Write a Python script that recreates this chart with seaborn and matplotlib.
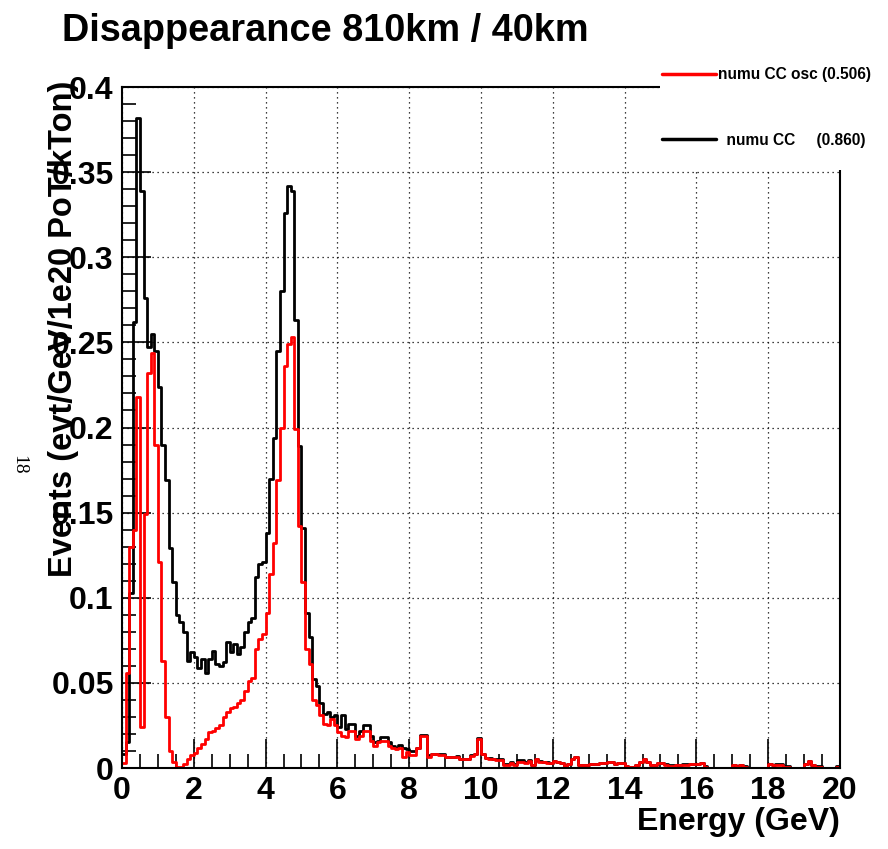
import numpy as np
import pandas as pd
import matplotlib
matplotlib.use('Agg')
import matplotlib.pyplot as plt
import seaborn as sns
from matplotlib.lines import Line2D
from matplotlib.patches import Rectangle
from matplotlib.ticker import MultipleLocator, FuncFormatter

# 0.1 GeV bins from 0 to 20 GeV
edges = np.round(np.arange(0, 20.01, 0.1), 1)
centers = edges[:-1] + 0.05

# numu CC, unoscillated (evt/GeV/1e20 PoT/kTon), one row per GeV
numu_cc = [
    0.008, 0.015, 0.103, 0.262, 0.382, 0.339, 0.276, 0.247, 0.255, 0.245,
    0.224, 0.190, 0.169, 0.129, 0.109, 0.090, 0.086, 0.080, 0.063, 0.068,
    0.065, 0.059, 0.064, 0.056, 0.064, 0.069, 0.061, 0.060, 0.062, 0.074,
    0.068, 0.073, 0.067, 0.071, 0.080, 0.086, 0.088, 0.112, 0.120, 0.121,
    0.138, 0.170, 0.194, 0.245, 0.280, 0.326, 0.342, 0.339, 0.263, 0.189,
    0.141, 0.091, 0.077, 0.052, 0.048, 0.038, 0.032, 0.033, 0.030, 0.031,
    0.024, 0.031, 0.023, 0.026, 0.026, 0.019, 0.022, 0.025, 0.025, 0.019,
    0.015, 0.016, 0.018, 0.018, 0.015, 0.013, 0.0115, 0.0135, 0.0116, 0.011,
    0.010, 0.010, 0.012, 0.0195, 0.0195, 0.0076, 0.0085, 0.0085, 0.008, 0.008,
    0.0067, 0.0063, 0.0063, 0.0068, 0.0055, 0.0055, 0.0055, 0.0075, 0.0085, 0.0175,
    0.0085, 0.0057, 0.0057, 0.0055, 0.0050, 0.0050, 0.0025, 0.0025, 0.0035, 0.0025,
    0.0045, 0.0045, 0.0035, 0.0045, 0.0020, 0.0055, 0.0040, 0.0038, 0.0033, 0.0032,
    0.0042, 0.0036, 0.0028, 0.0013, 0.0024, 0.0052, 0.0065, 0.0017, 0.0017, 0.0017,
    0.0025, 0.0025, 0.0025, 0.0028, 0.0028, 0.0036, 0.0036, 0.0025, 0.0031, 0.0031,
    0.0013, 0.0007, 0.0007, 0.0017, 0.0034, 0.0052, 0.0038, 0.0017, 0.0017, 0.0031,
    0.0031, 0.0021, 0.0015, 0.0015, 0.0017, 0.0017, 0.0021, 0.0021, 0.0025, 0.0025,
    0.0025, 0.0028, 0.0009, 0.0, 0.0, 0.0, 0.0, 0.0, 0.0, 0.0,
    0.0017, 0.0009, 0.0017, 0.0009, 0.0, 0.0, 0.0, 0.0, 0.0, 0.0,
    0.0025, 0.0017, 0.0021, 0.0021, 0.0009, 0.0009, 0.0, 0.0, 0.0, 0.0,
    0.0025, 0.0044, 0.0017, 0.0009, 0.0009, 0.0, 0.0, 0.0, 0.0, 0.0009,
]

# numu CC after oscillation
numu_cc_osc = [
    0.003, 0.056, 0.130, 0.140, 0.218, 0.024, 0.149, 0.232, 0.244, 0.190,
    0.121, 0.063, 0.030, 0.010, 0.0035, 0.0005, 0.0006, 0.0025, 0.005, 0.0075,
    0.009, 0.012, 0.014, 0.017, 0.021, 0.022, 0.0235, 0.025, 0.030, 0.033,
    0.035, 0.036, 0.038, 0.040, 0.045, 0.051, 0.053, 0.070, 0.076, 0.079,
    0.091, 0.114, 0.132, 0.169, 0.200, 0.236, 0.249, 0.253, 0.199, 0.142,
    0.109, 0.070, 0.061, 0.040, 0.037, 0.031, 0.026, 0.025, 0.029, 0.025,
    0.021, 0.019, 0.018, 0.022, 0.022, 0.017, 0.019, 0.022, 0.022, 0.016,
    0.013, 0.015, 0.016, 0.016, 0.013, 0.012, 0.011, 0.0116, 0.0063, 0.0096,
    0.0076, 0.0076, 0.0116, 0.019, 0.019, 0.0067, 0.008, 0.008, 0.0075, 0.0075,
    0.0063, 0.0063, 0.0063, 0.0065, 0.0053, 0.0053, 0.0053, 0.0070, 0.0080, 0.017,
    0.0082, 0.0057, 0.0055, 0.0053, 0.0045, 0.0045, 0.0020, 0.0020, 0.0028, 0.0020,
    0.0038, 0.0038, 0.0030, 0.0040, 0.0018, 0.0053, 0.0035, 0.0036, 0.0030, 0.0030,
    0.0040, 0.0035, 0.0027, 0.0012, 0.0023, 0.0050, 0.0063, 0.0016, 0.0016, 0.0016,
    0.0024, 0.0024, 0.0024, 0.0027, 0.0027, 0.0035, 0.0035, 0.0024, 0.0030, 0.0030,
    0.0012, 0.0006, 0.0006, 0.0016, 0.0033, 0.0050, 0.0037, 0.0016, 0.0016, 0.0030,
    0.0030, 0.0020, 0.0014, 0.0014, 0.0016, 0.0016, 0.0020, 0.0020, 0.0024, 0.0024,
    0.0024, 0.0027, 0.0008, 0.0, 0.0, 0.0, 0.0, 0.0, 0.0, 0.0,
    0.0016, 0.0008, 0.0016, 0.0008, 0.0, 0.0, 0.0, 0.0, 0.0, 0.0,
    0.0024, 0.0016, 0.0020, 0.0020, 0.0008, 0.0008, 0.0, 0.0, 0.0, 0.0,
    0.0024, 0.0043, 0.0016, 0.0008, 0.0008, 0.0, 0.0, 0.0, 0.0, 0.0008,
]

labels = ['numu CC osc (0.506)', '  numu CC     (0.860)']

cc = pd.DataFrame({'energy': centers, 'events': numu_cc})
osc = pd.DataFrame({'energy': centers, 'events': numu_cc_osc})

sns.set_style('white')
plt.rcParams['font.family'] = ['Liberation Sans', 'DejaVu Sans']
plt.rcParams['font.weight'] = 'bold'
plt.rcParams['text.color'] = 'black'
plt.rcParams['axes.labelcolor'] = 'black'
plt.rcParams['xtick.color'] = 'black'
plt.rcParams['ytick.color'] = 'black'

fig = plt.figure(figsize=(8.88, 8.49), dpi=100)
ax = fig.add_axes([0.1374, 0.0954, 0.8085, 0.8021])

# black first, red on top
sns.histplot(data=cc, x='energy', weights='events', bins=list(edges), element='step',
             fill=False, color='black', linewidth=2, ax=ax)
sns.histplot(data=osc, x='energy', weights='events', bins=list(edges), element='step',
             fill=False, color='#ff0000', linewidth=2, ax=ax)

ax.set_xlim(0, 20)
ax.set_ylim(0, 0.4)
ax.set_xlabel('')
ax.set_ylabel('')

ax.xaxis.set_major_locator(MultipleLocator(2))
ax.xaxis.set_minor_locator(MultipleLocator(0.5))
ax.yaxis.set_major_locator(MultipleLocator(0.05))
ax.yaxis.set_minor_locator(MultipleLocator(0.01))
ax.yaxis.set_major_formatter(FuncFormatter(lambda v, p: '%g' % round(v, 3)))

ax.tick_params(which='major', direction='in', length=21, width=1.2, labelsize=23,
               pad=6, colors='black', left=True, bottom=True, top=False, right=False)
ax.tick_params(which='minor', direction='in', length=10, width=1.2, colors='black',
               left=True, bottom=True, top=False, right=False)
for lab in ax.get_xticklabels() + ax.get_yticklabels():
    lab.set_fontweight('bold')

ax.grid(True, which='major', color='black', linestyle=(0, (1, 3)), linewidth=0.9)
for sp in ax.spines.values():
    sp.set_linewidth(1.5)
    sp.set_color('black')

# titles
fig.text(0.07, 0.963, 'Disappearance 810km / 40km', fontsize=27.3, fontweight='bold',
         va='center', color='black')
fig.text(0.946, 0.032, 'Energy (GeV)', fontsize=23, fontweight='bold', ha='right',
         va='center', color='black')
fig.text(0.071, 0.6125, 'Events (evt/GeV/1e20 PoT/kTon)', fontsize=23.5, fontweight='bold',
         rotation=90, ha='center', va='center', color='black')
fig.text(0.021, 0.452, '18', family='Liberation Serif', fontsize=14, fontweight='normal',
         rotation=-90, ha='center', va='center', color='black')

# legend box (white, covers the frame corner)
fig.add_artist(Rectangle((0.743, 0.80), 0.26, 0.135, transform=fig.transFigure,
                         facecolor='white', edgecolor='none', zorder=1))
handles = [Line2D([], [], color='#ff0000', linewidth=2.5),
           Line2D([], [], color='black', linewidth=2.5)]
leg = fig.legend(handles=handles, labels=labels, loc='upper left',
                 bbox_to_anchor=(0.7455, 0.921), frameon=False, fontsize=11.2,
                 handlelength=3.5, handletextpad=0.1, labelspacing=3.25,
                 borderaxespad=0, borderpad=0)
leg.set_zorder(5)
for t in leg.get_texts():
    t.set_fontweight('bold')
    t.set_color('black')

plt.savefig('out.png', dpi=100)
